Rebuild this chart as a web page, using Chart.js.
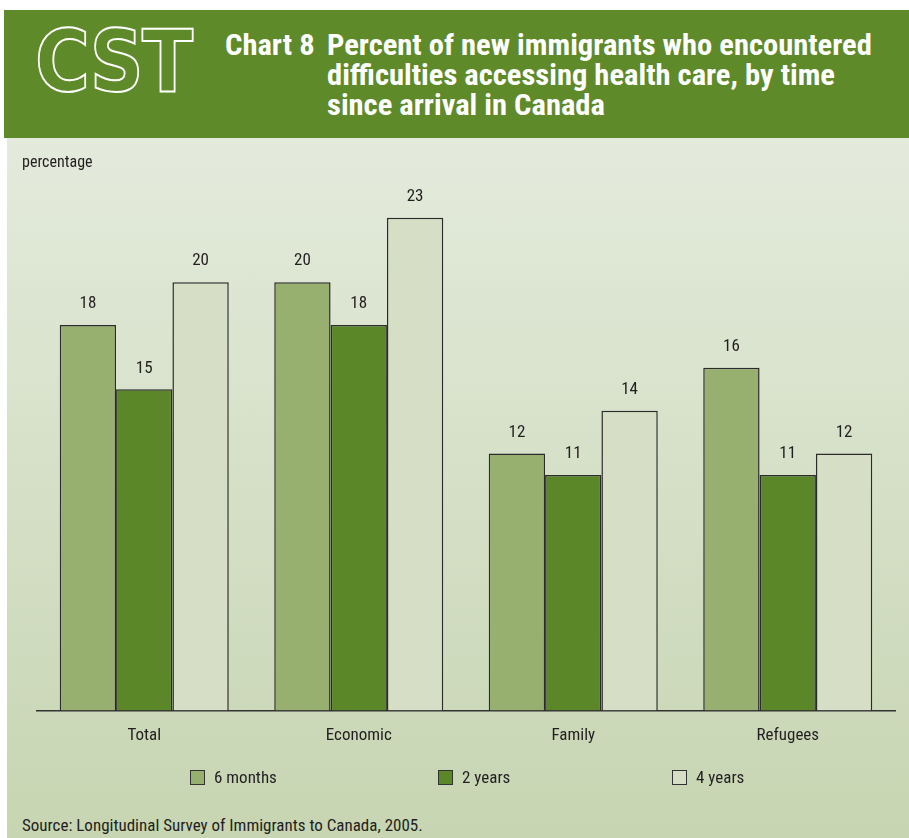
<!DOCTYPE html>
<html>
<head>
<meta charset="utf-8">
<script src="https://cdn.jsdelivr.net/npm/chart.js@4.4.1/dist/chart.umd.min.js"></script>
<style>
  html, body { margin: 0; padding: 0; background: #fff; }
  body { width: 909px; height: 838px; position: relative; overflow: hidden;
         font-family: "Roboto Condensed", "Open Sans", sans-serif; color: #231f20; }
  #header { position: absolute; left: 4px; top: 10px; width: 905px; height: 128px; background: #5e8a29; }
  #logo { position: absolute; left: 31px; top: 8px; font: bold 86px "DejaVu Sans", sans-serif; line-height: 86px;
          white-space: nowrap; color: transparent; -webkit-text-stroke: 2px #fff; transform-origin: left top; letter-spacing: -2px; }
  .tl { position: absolute; color: #fff; font-weight: bold; font-size: 30px; line-height: 30px; white-space: nowrap; transform-origin: left top; }
  #panel { position: absolute; left: 7px; top: 138px; width: 902px; height: 700px;
           background: linear-gradient(to bottom, #e4eadc 0%, #d8e2cb 40%, #c7d5b2 100%); }
  #ylab { position: absolute; left: 15px; top: 14px; font-size: 16px; }
  #chart { position: absolute; left: 0; top: 0; }
  .leg { position: absolute; top: 631px; font-size: 17px; line-height: 16px; white-space: nowrap; }
  .leg span.box { display: inline-block; width: 13px; height: 13px; border: 1px solid #333; vertical-align: -2px; margin-right: 9px; }
  #source { position: absolute; left: 15px; top: 677px; font-size: 17px; white-space: nowrap; }
</style>
</head>
<body>
<div id="header">
  <div id="logo">CST</div>
  <div class="tl" style="left:221px; top:20px">Chart 8</div>
  <div class="tl" id="line1" style="left:323px; top:20px">Percent of new immigrants who encountered</div>
  <div class="tl" style="left:323px; top:50px">difficulties accessing health care, by time</div>
  <div class="tl" style="left:323px; top:80px">since arrival in Canada</div>
</div>
<div id="panel">
  <canvas id="chart" width="902" height="640"></canvas>
  <div id="ylab">percentage</div>
  <div id="legend"></div>
  <div id="source">Source: Longitudinal Survey of Immigrants to Canada, 2005.</div>
</div>
<script>
const categories = ['Total', 'Economic', 'Family', 'Refugees'];
const seriesNames = ['6 months', '2 years', '4 years'];
const sixMonths = [18, 20, 12, 16];
const twoYears = [15, 18, 11, 11];
const fourYears = [20, 23, 14, 12];
const seriesColors = ['#97b06f', '#5b8729', '#d6dfc5'];
const legendLeft = [183, 431, 665];
const fontFam = '"Roboto Condensed", "Open Sans", sans-serif';

// fit the logo and title widths to the reference
const logo = document.getElementById('logo');
logo.style.transform = 'scaleX(' + (156 / logo.scrollWidth) + ')';
const l1 = document.getElementById('line1');
const s = 545 / l1.scrollWidth;
document.querySelectorAll('.tl').forEach(el => { el.style.transform = 'scaleX(' + s + ')'; });

const valueLabels = {
    id: 'valueLabels',
    afterDatasetsDraw(chart) {
        const ctx = chart.ctx;
        ctx.save();
        ctx.font = '17px ' + fontFam;
        ctx.fillStyle = '#231f20';
        ctx.textAlign = 'center';
        ctx.textBaseline = 'middle';
        chart.data.datasets.forEach((ds, i) => {
            chart.getDatasetMeta(i).data.forEach((bar, j) => {
                ctx.fillText(ds.data[j], bar.x, bar.y - 21);
            });
        });
        ctx.restore();
    }
};

const ctx = document.getElementById('chart');
new Chart(ctx, {
    type: 'bar',
    data: {
        labels: categories,
        datasets: [sixMonths, twoYears, fourYears].map((d, i) => ({
            label: seriesNames[i],
            data: d,
            backgroundColor: seriesColors[i],
            borderColor: '#2b2b2b',
            borderWidth: 1.5,
            categoryPercentage: 0.788,
            barPercentage: 1
        }))
    },
    options: {
        responsive: false,
        animation: false,
        layout: { padding: { left: 30, right: 14, top: 15.6, bottom: 25 } },
        plugins: { legend: { display: false }, tooltip: { enabled: false } },
        scales: {
            y: { display: false, min: 0, max: 26 },
            x: {
                grid: { display: false },
                border: { display: true, color: '#333', width: 1.5 },
                ticks: { color: '#231f20', padding: 7, font: { size: 17, family: fontFam } }
            }
        }
    },
    plugins: [valueLabels]
});

// legend
const legend = document.getElementById('legend');
seriesNames.forEach((name, i) => {
    const el = document.createElement('div');
    el.className = 'leg';
    el.style.left = legendLeft[i] + 'px';
    el.innerHTML = '<span class="box" style="background:' + seriesColors[i] + '"></span>' + name;
    legend.appendChild(el);
});
</script>
</body>
</html>
